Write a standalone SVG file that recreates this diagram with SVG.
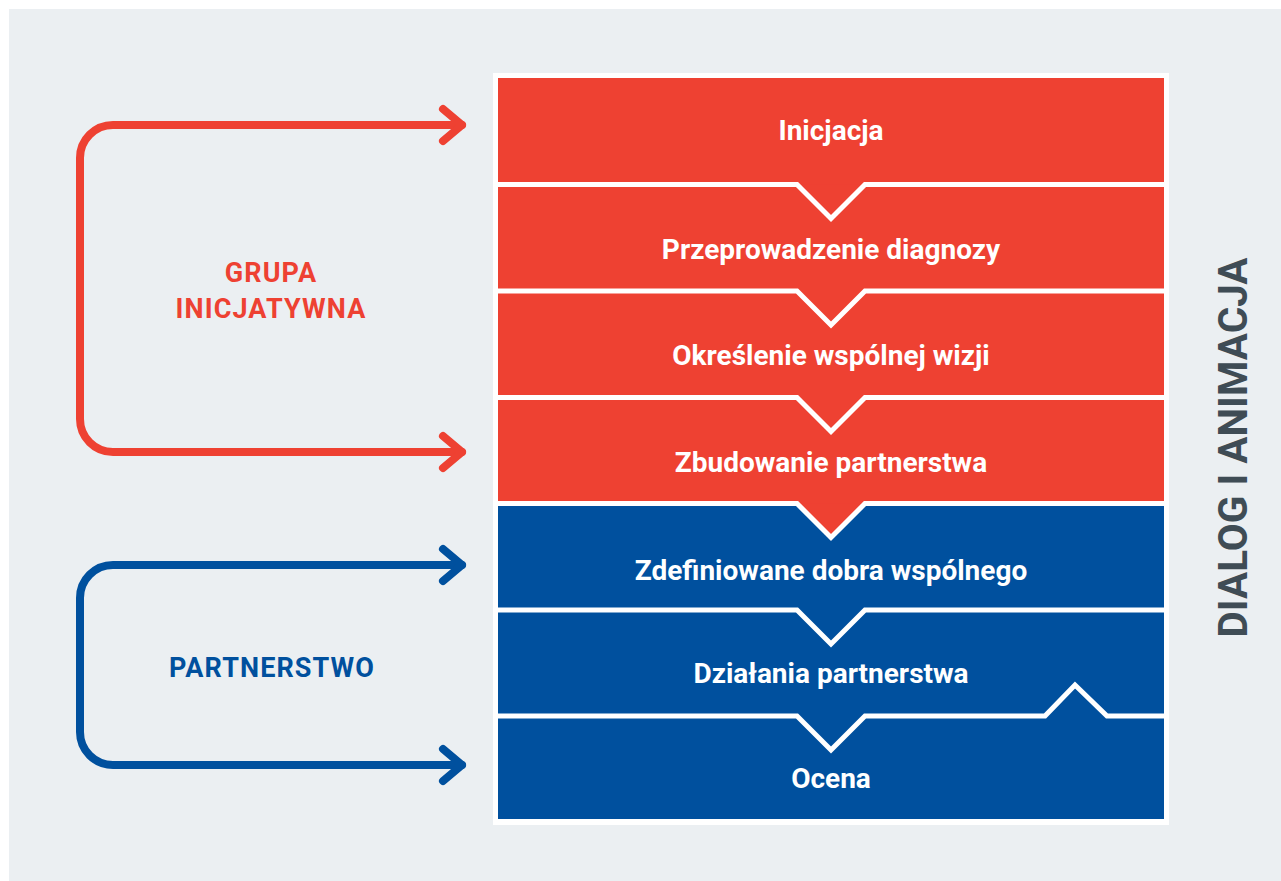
<svg xmlns="http://www.w3.org/2000/svg" width="1281" height="881" viewBox="0 0 1281 881">
<defs>
<style>
.red{fill:#ee4132}
.blue{fill:#00509e}
.sep{fill:none;stroke:#ffffff;stroke-width:5;stroke-linejoin:miter}
.step{font-family:Roboto,"Liberation Sans",sans-serif;font-weight:700;font-size:28px;fill:#ffffff;text-anchor:middle}
.lbl{font-family:Roboto,"Liberation Sans",sans-serif;font-weight:700;font-size:27px;letter-spacing:1.1px;text-anchor:middle}
.arr{fill:none;stroke-width:8;stroke-linecap:round;stroke-linejoin:round}
</style>
</defs>
<rect x="0" y="0" width="1281" height="881" fill="#ffffff"/>
<rect x="9" y="9" width="1272" height="872" fill="#ebeff2"/>

<g id="frame">
<rect x="493" y="73" width="676" height="752" fill="#ffffff"/>
</g>

<g id="step1"><rect class="red" x="498" y="78" width="666" height="107"/><text class="step" x="831" y="140">Inicjacja</text></g>
<g id="step2"><rect class="red" x="498" y="185" width="666" height="106"/><polygon class="red" points="797,184.5 831,218.5 865,184.5"/><text class="step" x="831" y="259">Przeprowadzenie diagnozy</text></g>
<g id="step3"><rect class="red" x="498" y="291" width="666" height="106"/><text class="step" x="831" y="365">Określenie wspólnej wizji</text></g>
<g id="step4"><rect class="red" x="498" y="397" width="666" height="107"/><text class="step" x="831" y="472">Zbudowanie partnerstwa</text></g>
<g id="step5"><rect class="blue" x="498" y="504" width="666" height="106"/><polygon class="red" points="797,503.5 831,537.5 865,503.5"/><text class="step" x="831" y="580">Zdefiniowane dobra wspólnego</text></g>
<g id="step6"><rect class="blue" x="498" y="610" width="666" height="106"/><text class="step" x="831" y="683">Działania partnerstwa</text></g>
<g id="step7"><rect class="blue" x="498" y="716" width="666" height="103"/><text class="step" x="831" y="788">Ocena</text></g>

<g id="connectors">
<polyline class="sep" points="498,184.5 797,184.5 831,218.5 865,184.5 1164,184.5"/>
<polyline class="sep" points="498,291 797,291 831,325 865,291 1164,291"/>
<polyline class="sep" points="498,397.5 797,397.5 831,431.5 865,397.5 1164,397.5"/>
<polyline class="sep" points="498,503.5 797,503.5 831,537.5 865,503.5 1164,503.5"/>
<polyline class="sep" points="498,610 797,610 831,644 865,610 1164,610"/>
<polyline class="sep" points="498,716 797,716 831,750 865,716 1045,716 1075,685 1107,716 1164,716"/>

<path class="arr" stroke="#ee4132" d="M462,125 H113 A33,33 0 0 0 80,158 V419 A33,33 0 0 0 113,452 H462"/>
<polyline class="arr" stroke="#ee4132" points="443,109 462,125 443,141"/>
<polyline class="arr" stroke="#ee4132" points="443,436 462,452 443,468"/>

<path class="arr" stroke="#00509e" d="M462,565 H113 A33,33 0 0 0 80,598 V732 A33,33 0 0 0 113,765 H462"/>
<polyline class="arr" stroke="#00509e" points="443,549 462,565 443,581"/>
<polyline class="arr" stroke="#00509e" points="443,749 462,765 443,781"/>
</g>

<g id="label-grupa">
<text class="lbl" fill="#ee4132" x="271" y="282">GRUPA</text>
<text class="lbl" fill="#ee4132" x="271" y="318">INICJATYWNA</text>
</g>
<g id="label-partnerstwo">
<text class="lbl" fill="#00509e" x="272" y="677">PARTNERSTWO</text>
</g>
<g id="label-dialog">
<text transform="translate(1247,447.5) rotate(-90)" x="0" y="0" font-family="Roboto,'Liberation Sans',sans-serif" font-weight="700" font-size="40.5" fill="#3f4c55" text-anchor="middle">DIALOG I ANIMACJA</text>
</g>
</svg>
